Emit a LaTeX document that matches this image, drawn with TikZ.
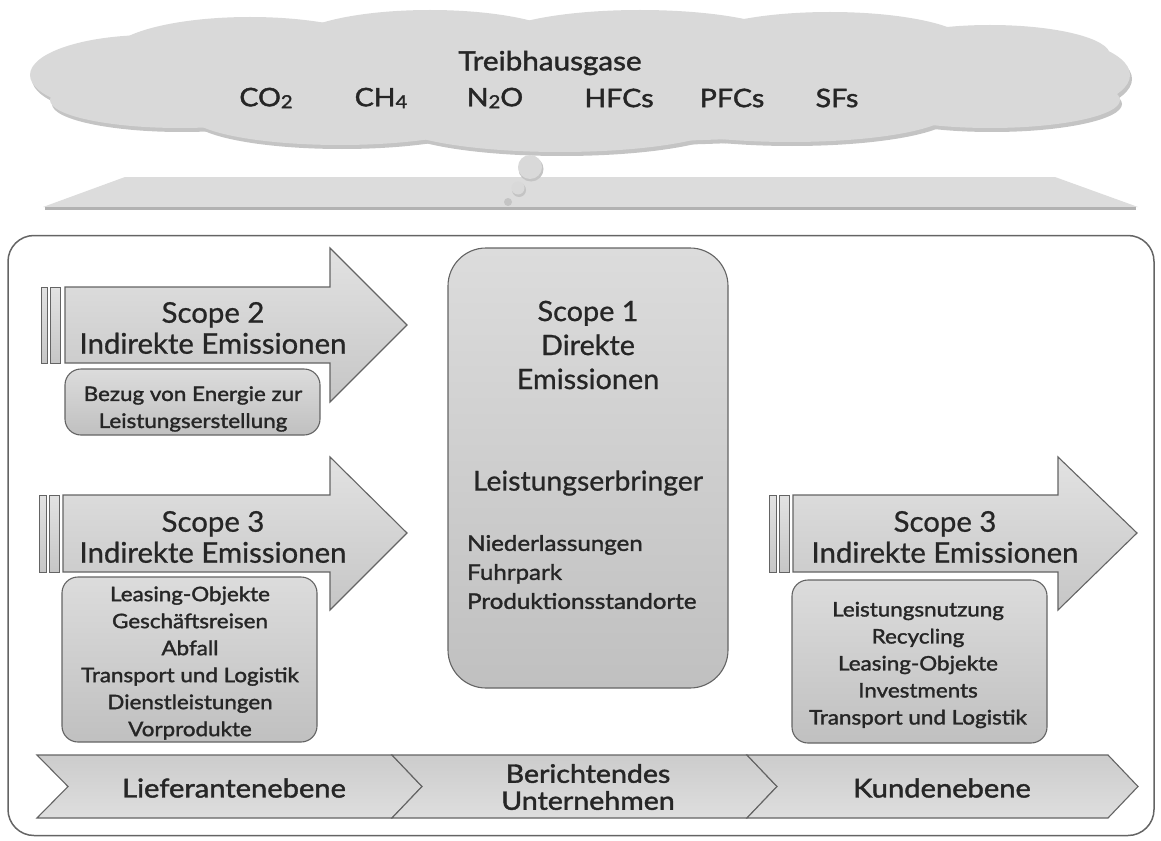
\documentclass[tikz,border=0pt]{standalone}
\usepackage{fontspec}
\setmainfont{Lato}[FakeBold=0.8, FakeStretch=1.03]
\newfontfamily\semib{Lato}[FakeBold=1.6, FakeStretch=1.12]
\definecolor{ink}{RGB}{38,38,38}
\definecolor{edge}{RGB}{100,100,100}
\definecolor{fillhi}{RGB}{226,226,226}
\definecolor{filllo}{RGB}{198,198,198}
\definecolor{boxhi}{RGB}{220,220,220}
\definecolor{boxlo}{RGB}{192,192,192}
\definecolor{bandhi}{RGB}{204,204,204}
\definecolor{bandlo}{RGB}{222,222,222}
\definecolor{cloudfill}{RGB}{217,217,217}
\definecolor{cloudshade}{RGB}{196,196,196}
\definecolor{plane}{RGB}{220,220,220}
\definecolor{planeedge}{RGB}{178,178,178}
\newcommand\lowdig[1]{\raisebox{-0.15ex}{\fontsize{18}{18}\selectfont #1}}
\tikzset{
  hd/.style={text=ink, font=\fontsize{28.5}{31}\selectfont, align=center, inner sep=0pt},
  sm/.style={text=ink, font=\semib\fontsize{20}{27}\selectfont, align=center, inner sep=0pt},
  gas/.style={text=ink, font=\semib\fontsize{25.5}{25.5}\selectfont, inner sep=0pt},
  bandtext/.style={text=ink, font=\semib\fontsize{26}{27}\selectfont, align=center, inner sep=0pt},
  bigarrow/.style={draw=edge, line width=1.1pt, top color=fillhi, bottom color=filllo},
  infobox/.style={draw=edge, line width=1.1pt, rounded corners=16pt, top color=boxhi, bottom color=boxlo, inner sep=0pt},
  band/.style={draw=edge, line width=1.1pt, top color=bandhi, bottom color=bandlo},
  cloudpart/.style={fill=cloudfill},
}
\begin{document}
\begin{tikzpicture}[x=1pt, y=-1pt]
\useasboundingbox (0,0) rectangle (1161,840);

% ---------- cloud with greenhouse gases ----------
\begin{scope}[shift={(2,4)}]
  \foreach \cx/\cy/\rx/\ry in {580/82/480/60, 150/75/120/40, 1010/75/120/42,
      250/55/140/38, 430/45/140/35, 640/42/150/32, 830/45/140/33, 990/55/120/30,
      180/100/130/28, 340/115/150/30, 560/120/170/32, 790/112/160/30, 990/100/130/28}
    \fill[cloudshade] (\cx,\cy) ellipse [x radius=\rx, y radius=\ry];
\end{scope}
\foreach \cx/\cy/\rx/\ry in {580/82/480/60, 150/75/120/40, 1010/75/120/42,
    250/55/140/38, 430/45/140/35, 640/42/150/32, 830/45/140/33, 990/55/120/30,
    180/100/130/28, 340/115/150/30, 560/120/170/32, 790/112/160/30, 990/100/130/28}
  \fill[cloudpart] (\cx,\cy) ellipse [x radius=\rx, y radius=\ry];

\node[gas, font=\semib\fontsize{26.5}{26.5}\selectfont] (ghg) at (550,63) {Treibhausgase};
\node[gas] (co2) at (266,98) {CO\lowdig{2}};
\node[gas] (ch4) at (381,98) {CH\lowdig{4}};
\node[gas] (n2o) at (495,98) {N\lowdig{2}O};
\node[gas] (hfc) at (619,98) {HFCs};
\node[gas] (pfc) at (732,98) {PFCs};
\node[gas] (sfs) at (837,98) {SFs};

% ---------- ground plane ----------
\fill[plane] (125,177) -- (1055,177) -- (1138,207) -- (43,207) -- cycle;
\draw[planeedge, line width=3pt] (45,208) -- (1136,208);

% thought bubbles
\fill[cloudshade] (531,169) circle [radius=12.5];
\fill[cloudfill] (530,167) circle [radius=12];
\fill[cloudshade] (519,190) circle [radius=7];
\fill[cloudfill] (518,188) circle [radius=6.5];
\fill[cloudshade] (508,202) circle [radius=4];

% ---------- main frame ----------
\node[draw=edge, line width=1.5pt, fill=white, rounded corners=26pt,
      minimum width=1146pt, minimum height=600pt, inner sep=0pt] (frame) at (581,535.5) {};

% ---------- Scope 2 (upper left) ----------
\path[bigarrow] (65,287) -- (330,287) -- (330,248) -- (407,325) -- (330,402)
      -- (330,363) -- (65,363) -- cycle;
\path[bigarrow, line width=0.9pt] (41,287) rectangle (47,363);
\path[bigarrow, line width=0.9pt] (50,287) rectangle (60,363);
\node[hd] (s2) at (213,328) {Scope 2\\Indirekte Emissionen};
\node[infobox, minimum width=255pt, minimum height=66pt] (b2) at (192.5,402) {};
\node[sm] (b2t) at (193,409) {Bezug von Energie zur\\Leistungserstellung};

% ---------- Scope 3 (lower left) ----------
\path[bigarrow] (63,495) -- (330,495) -- (330,457) -- (407,533) -- (330,610)
      -- (330,572) -- (63,572) -- cycle;
\path[bigarrow, line width=0.9pt] (39,495) rectangle (46,572);
\path[bigarrow, line width=0.9pt] (49,495) rectangle (59,572);
\node[hd] (s3l) at (213,537) {Scope 3\\Indirekte Emissionen};
\node[infobox, minimum width=255pt, minimum height=165pt] (b3l) at (189.5,659.5) {};
\node[sm] (b3lt) at (190,663) {Leasing-Objekte\\Geschäftsreisen\\Abfall\\Transport und Logistik\\Dienstleistungen\\Vorprodukte};

% ---------- Scope 1 (centre) ----------
\node[infobox, rounded corners=38pt, minimum width=280pt, minimum height=440pt] (s1) at (588,468) {};
\node[text=ink, font=\fontsize{28}{34}\selectfont, align=center, inner sep=0pt] (s1t)
  at (588,345) {Scope 1\\Direkte\\Emissionen};
\node[text=ink, font=\fontsize{27.5}{30}\selectfont, inner sep=0pt] (s1m) at (588,483) {Leistungserbringer};
\node[text=ink, font=\semib\fontsize{21.5}{29}\selectfont, align=left, inner sep=0pt, anchor=west] (s1l)
  at (467,572) {Niederlassungen\\Fuhrpark\\Produktionsstandorte};

% ---------- Scope 3 (right) ----------
\path[bigarrow] (793,495) -- (1058,495) -- (1058,457) -- (1137,533) -- (1058,610)
      -- (1058,572) -- (793,572) -- cycle;
\path[bigarrow, line width=0.9pt] (769,495) rectangle (776,572);
\path[bigarrow, line width=0.9pt] (779,495) rectangle (789,572);
\node[hd] (s3r) at (945,537) {Scope 3\\Indirekte Emissionen};
\node[infobox, minimum width=255pt, minimum height=163pt] (b3r) at (919.5,661.5) {};
\node[sm] (b3rt) at (918,665) {Leistungsnutzung\\Recycling\\Leasing-Objekte\\Investments\\Transport und Logistik};

% ---------- value chain band ----------
\path[band] (37,755) -- (392,755) -- (422,786.5) -- (392,818) -- (37,818) -- (68,786.5) -- cycle;
\path[band] (392,755) -- (747,755) -- (777,786.5) -- (747,818) -- (392,818) -- (422,786.5) -- cycle;
\path[band] (747,755) -- (1108,755) -- (1138,786.5) -- (1108,818) -- (747,818) -- (777,786.5) -- cycle;
\node[bandtext] (lief) at (234,788) {Lieferantenebene};
\node[bandtext, font=\semib\fontsize{25.5}{27}\selectfont] (ber) at (588,787) {Berichtendes\\Unternehmen};
\node[bandtext] (kund) at (942,788) {Kundenebene};
\end{tikzpicture}
\end{document}
